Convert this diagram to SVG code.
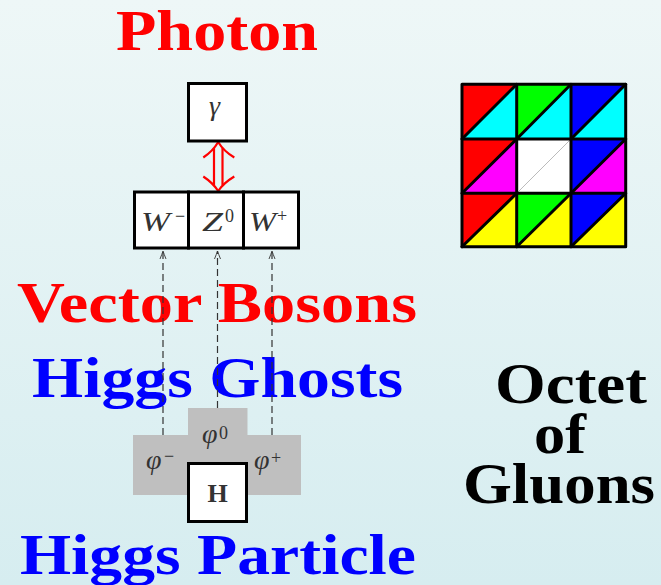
<svg xmlns="http://www.w3.org/2000/svg" width="661" height="585" viewBox="0 0 661 585">
<defs>
<linearGradient id="bg" x1="0" y1="0" x2="0" y2="1">
<stop offset="0" stop-color="#eef7f7"/>
<stop offset="1" stop-color="#d6edf0"/>
</linearGradient>
<marker id="ah" viewBox="-10 -5 12 10" markerWidth="12" markerHeight="10" refX="0" refY="0" orient="auto" markerUnits="userSpaceOnUse">
<path d="M-8,-3 Q-3,-1 0,0 Q-3,1 -8,3" fill="none" stroke="#333" stroke-width="0.9"/>
</marker>
<style>
.title{font-family:"Liberation Serif","Times New Roman",serif;font-weight:bold;font-size:58px}
.red{fill:#ff0000}
.blue{fill:#0000ff}
.blk{fill:#000;font-size:56px}
.box{fill:#fff;stroke:#000;stroke-width:3}
.math{font-family:"Liberation Serif","Times New Roman",serif;font-style:italic;font-size:28px;fill:#333}
.sup{font-family:"Liberation Serif","Times New Roman",serif;font-size:18px;fill:#333}
.dash{stroke:#333;stroke-width:1.2;stroke-dasharray:7 4;fill:none}
.grid{stroke:#000;stroke-width:3;fill:none;stroke-linecap:round}
</style>
</defs>
<rect width="661" height="585" fill="url(#bg)"/>

<g id="labels">
<text class="title red" x="116" y="50" textLength="202" lengthAdjust="spacingAndGlyphs">Photon</text>
<text class="title red" x="17" y="321.7" textLength="400" lengthAdjust="spacingAndGlyphs">Vector Bosons</text>
<text class="title blue" x="32" y="396.7" textLength="371" lengthAdjust="spacingAndGlyphs">Higgs Ghosts</text>
<text class="title blue" x="20" y="574.3" textLength="396" lengthAdjust="spacingAndGlyphs">Higgs Particle</text>
<text class="title blk" x="495" y="403.3" textLength="152" lengthAdjust="spacingAndGlyphs">Octet</text>
<text class="title blk" x="534" y="453.3" textLength="52" lengthAdjust="spacingAndGlyphs">of</text>
<text class="title blk" x="463" y="503.3" textLength="192" lengthAdjust="spacingAndGlyphs">Gluons</text>
</g>

<g id="higgs-ghosts-area">
<polygon points="133,435 188,435 188,408 247.5,408 247.5,435 301,435 301,495 133,495" fill="#bfbfbf"/>
<text class="math" x="146" y="469">φ</text><text class="sup" x="164" y="462">−</text>
<text class="math" x="202" y="443">φ</text><text class="sup" x="219" y="439">0</text>
<text class="math" x="254" y="469">φ</text><text class="sup" x="271" y="464">+</text>
</g>

<g id="connectors">
<line class="dash" x1="163" y1="435" x2="163" y2="251" marker-end="url(#ah)"/>
<line class="dash" x1="217.5" y1="408" x2="217.5" y2="251" marker-end="url(#ah)"/>
<line class="dash" x1="272" y1="435" x2="272" y2="251" marker-end="url(#ah)"/>
<g fill="none" stroke="#ff0000" stroke-width="2.2">
<path d="M214,148 V185 M222.5,148 V185"/>
<path d="M203.3,157.5 Q213,151 218.2,142 Q223.5,151 234.3,157.5"/>
<path d="M203.3,176.5 Q213,183 218.2,191 Q223.5,183 234.3,176.5"/>
</g>
</g>

<g id="photon">
<rect class="box" x="188.5" y="83.5" width="58" height="57.5"/>
<text class="math" x="209" y="115">γ</text>
</g>

<g id="w-minus">
<rect class="box" x="134.5" y="192" width="54" height="56"/>
<text class="math" x="141" y="231" textLength="29" lengthAdjust="spacingAndGlyphs">W</text>
<text class="sup" x="175" y="222">−</text>
</g>
<g id="z0">
<rect class="box" x="188.5" y="192" width="55" height="56"/>
<text class="math" x="202" y="231" textLength="21" lengthAdjust="spacingAndGlyphs">Z</text>
<text class="sup" x="225" y="222">0</text>
</g>
<g id="w-plus">
<rect class="box" x="243.5" y="192" width="55" height="56"/>
<text class="math" x="249" y="231" textLength="27" lengthAdjust="spacingAndGlyphs">W</text>
<text class="sup" x="277" y="222">+</text>
</g>

<g id="higgs">
<rect class="box" x="188.5" y="463.5" width="58" height="58"/>
<text x="217.5" y="502" text-anchor="middle" font-family="'Liberation Serif','Times New Roman',serif" font-weight="bold" font-size="26" fill="#333">H</text>
</g>

<g id="gluon-octet">
<g stroke="none">
<polygon points="462,84.3 516.7,84.3 462,139" fill="#ff0000"/>
<polygon points="516.7,84.3 516.7,139 462,139" fill="#00ffff"/>
<polygon points="516.7,84.3 571,84.3 516.7,139" fill="#00ff00"/>
<polygon points="571,84.3 571,139 516.7,139" fill="#00ffff"/>
<polygon points="571,84.3 625.7,84.3 571,139" fill="#0000ff"/>
<polygon points="625.7,84.3 625.7,139 571,139" fill="#00ffff"/>
<polygon points="462,139 516.7,139 462,193.3" fill="#ff0000"/>
<polygon points="516.7,139 516.7,193.3 462,193.3" fill="#ff00ff"/>
<rect x="516.7" y="139" width="54.3" height="54.3" fill="#fff"/>
<polygon points="571,139 625.7,139 571,193.3" fill="#0000ff"/>
<polygon points="625.7,139 625.7,193.3 571,193.3" fill="#ff00ff"/>
<polygon points="462,193.3 516.7,193.3 462,246.7" fill="#ff0000"/>
<polygon points="516.7,193.3 516.7,246.7 462,246.7" fill="#ffff00"/>
<polygon points="516.7,193.3 571,193.3 516.7,246.7" fill="#00ff00"/>
<polygon points="571,193.3 571,246.7 516.7,246.7" fill="#ffff00"/>
<polygon points="571,193.3 625.7,193.3 571,246.7" fill="#0000ff"/>
<polygon points="625.7,193.3 625.7,246.7 571,246.7" fill="#ffff00"/>
</g>
<line x1="516.7" y1="193.3" x2="571" y2="139" stroke="#aaa" stroke-width="0.8"/>
<path class="grid" d="M462,84.3 H625.7 M462,139 H625.7 M462,193.3 H625.7 M462,246.7 H625.7 M462,84.3 V246.7 M516.7,84.3 V246.7 M571,84.3 V246.7 M625.7,84.3 V246.7"/>
<path class="grid" d="M462,139 L516.7,84.3 M516.7,139 L571,84.3 M571,139 L625.7,84.3 M462,193.3 L516.7,139 M571,193.3 L625.7,139 M462,246.7 L516.7,193.3 M516.7,246.7 L571,193.3 M571,246.7 L625.7,193.3"/>
</g>
</svg>
